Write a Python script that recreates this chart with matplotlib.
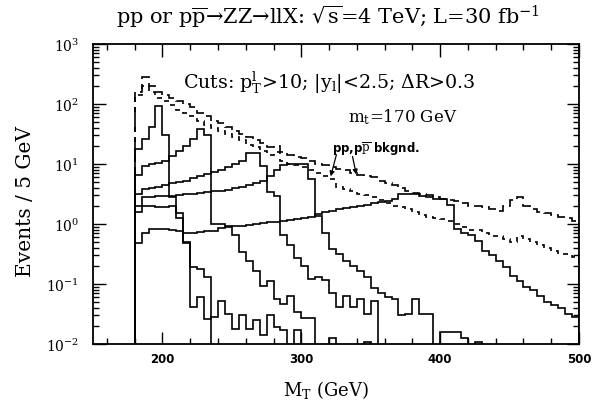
import numpy as np
import matplotlib
matplotlib.use("Agg")
import matplotlib.pyplot as plt
from matplotlib.ticker import FixedLocator, LogLocator, NullFormatter

plt.rcParams['font.family'] = ['DejaVu Serif']
plt.rcParams['mathtext.fontset'] = 'dejavuserif'

# ---- data: events / 5 GeV, bins from 180 to 500 GeV ----
bin_lo = 180
bin_hi = 500
bin_w = 5
Z = 0.001  # empty bin (off scale)

bkg_pp = [158, 282, 200, 158, 141, 126, 112, 100,
          89, 71, 63, 52, 48, 42, 35, 32,
          28, 25, 22, 19, 20, 15.8, 14, 13.2,
          12.6, 11.2, 10, 9.5, 8.9, 8.3, 7.9, 7.1,
          6.6, 6.3, 6.0, 5.2, 4.8, 4.5, 4.0, 3.5,
          3.3, 3.2, 3.0, 2.8, 2.6, 2.5, 2.4, 2.2,
          2.0, 2.0, 1.9, 1.8, 1.66, 2.0, 2.5, 2.8,
          2.0, 1.8, 1.58, 1.5, 1.41, 1.32, 1.26, 1.12]

bkg_ppbar = [141, 200, 158, 126, 112, 95, 79, 71,
             63, 52, 45, 40, 35, 32, 28, 25,
             21, 19, 16.6, 14, 15.8, 11.2, 10, 9.5,
             8.9, 7.9, 7.1, 6.3, 5.6, 4.2, 3.8, 3.5,
             3.2, 3.0, 2.8, 2.5, 2.2, 2.0, 1.9, 1.8,
             1.58, 1.41, 1.32, 1.26, 1.2, 1.12, 1.0, 0.89,
             0.79, 0.79, 0.71, 0.63, 0.63, 0.56, 0.5, 0.63,
             0.56, 0.5, 0.45, 0.4, 0.35, 0.32, 0.32, 0.28]

sig_a = [0.49, 0.72, 0.81, 0.83, 0.83, 0.79, 0.76, 0.49,
         0.19, 0.18, 0.13, Z, Z, Z, Z, Z,
         Z, Z, Z, Z, Z, Z, Z, Z,
         Z, Z, Z, Z, Z, Z, Z, Z,
         Z, Z, Z, Z, Z, Z, Z, Z,
         Z, Z, Z, Z, Z, Z, Z, Z,
         Z, Z, Z, Z, Z, Z, Z, Z,
         Z, Z, Z, Z, Z, Z, Z, Z]

sig_200 = [18, 26, 42, 93, 30, 2.8, 1.26, 0.5,
           0.041, 0.06, 0.026, 0.028, 0.052, 0.032, 0.018, 0.03,
           0.018, 0.025, 0.014, 0.03, 0.019, 0.017, Z, 0.017,
           Z, Z, Z, Z, Z, Z, Z, Z,
           Z, 0.011, Z, Z, Z, Z, Z, Z,
           Z, Z, Z, Z, Z, Z, Z, Z,
           Z, Z, Z, Z, Z, Z, Z, Z,
           Z, Z, Z, Z, Z, Z, Z, Z]

sig_240 = [6.6, 9.3, 10, 10.5, 11.2, 13.8, 16.6, 20,
           26, 38, 30, 1.0, 1.0, 0.93, 0.65, 0.34,
           0.245, 0.166, 0.093, 0.112, 0.056, 0.047, 0.063, 0.034,
           0.0275, 0.0275, Z, Z, 0.0126, Z, Z, Z,
           Z, Z, Z, Z, Z, Z, Z, Z,
           Z, Z, Z, Z, Z, Z, Z, Z,
           Z, Z, Z, Z, Z, Z, Z, Z,
           Z, Z, Z, Z, Z, Z, Z, Z]

sig_270 = [3.2, 3.8, 4.0, 4.2, 4.4, 4.8, 5.0, 5.2,
           5.8, 6.3, 6.9, 7.4, 7.9, 8.9, 10, 11.2,
           15.5, 15.5, 9.3, 3.4, 2.95, 0.65, 0.44, 0.275,
           0.2, 0.12, 0.13, 0.115, 0.072, 0.041, 0.063, 0.041,
           0.056, 0.032, 0.052, Z, Z, Z, Z, Z,
           Z, Z, Z, Z, Z, Z, Z, Z,
           Z, Z, Z, Z, Z, Z, Z, Z,
           Z, Z, Z, Z, Z, Z, Z, Z]

sig_300 = [2.0, 2.8, 2.8, 2.9, 2.95, 2.95, 3.0, 3.2,
           3.2, 3.3, 3.4, 3.5, 3.5, 3.7, 4.0, 4.2,
           4.5, 4.8, 5.2, 6.3, 7.9, 9.5, 10, 10,
           10, 5.6, 1.38, 0.72, 0.38, 0.32, 0.245, 0.2,
           0.166, 0.13, 0.087, 0.072, 0.06, 0.056, 0.03, 0.032,
           0.056, 0.032, 0.032, Z, 0.016, 0.016, 0.016, 0.0126,
           Z, 0.011, Z, Z, Z, Z, Z, Z,
           Z, Z, Z, Z, Z, Z, Z, Z]

sig_400 = [1.58, 2.0, 2.0, 1.9, 1.9, 2.0, 1.55, 0.72,
           0.72, 0.74, 0.76, 0.76, 0.87, 0.89, 0.91, 0.93,
           0.95, 1.0, 1.05, 1.07, 1.1, 1.12, 1.15, 1.2,
           1.26, 1.32, 1.48, 1.58, 1.66, 1.8, 1.86, 1.9,
           2.0, 2.1, 2.2, 2.35, 2.45, 2.6, 3.2, 3.2,
           3.2, 2.95, 2.8, 2.6, 2.6, 2.1, 0.83, 0.72,
           0.65, 0.52, 0.36, 0.3, 0.245, 0.19, 0.138, 0.112,
           0.089, 0.08, 0.063, 0.05, 0.045, 0.04, 0.032, 0.028]

solid_series = [sig_a, sig_200, sig_240, sig_270, sig_300, sig_400]

x_ticks = [200, 300, 400, 500]
x_tick_labels = ['200', '300', '400', '500']

# ---- figure ----
fig = plt.figure(figsize=(5.95, 4.02), dpi=100)
ax = fig.add_axes([93/595, 1-345/402, (579-93)/595, (345-45)/402])

edges = np.arange(bin_lo, bin_hi + bin_w, bin_w)
lw = 1.2
ax.stairs(bkg_pp, edges, baseline=Z, color='black', lw=lw,
          linestyle=(0, (6, 3)))
ax.stairs(bkg_ppbar, edges, baseline=Z, color='black', lw=lw,
          linestyle=(0, (3, 3)))
for s in solid_series:
    ax.stairs(s, edges, baseline=Z, color='black', lw=lw)

ax.set_yscale('log')
ax.set_xlim(150, 500)
ax.set_ylim(1e-2, 1e3)

ax.xaxis.set_major_locator(FixedLocator(x_ticks))
ax.set_xticklabels(x_tick_labels, fontfamily='DejaVu Sans',
                   fontweight='bold', fontsize=8.5)
ax.xaxis.set_minor_locator(FixedLocator(np.arange(160, 500, 20)))
ax.yaxis.set_major_locator(LogLocator(base=10, numticks=10))
ax.yaxis.set_minor_locator(LogLocator(base=10, subs=np.arange(2, 10), numticks=20))
ax.yaxis.set_minor_formatter(NullFormatter())
ax.tick_params(which='both', direction='in', top=True, right=True, width=1.0)
ax.tick_params(which='major', length=9)
ax.tick_params(which='minor', length=4)
ax.tick_params(axis='y', labelsize=10, pad=10)
ax.tick_params(axis='x', pad=6)
for sp in ax.spines.values():
    sp.set_linewidth(1.3)

ax.set_xlabel(r'M$_{\rm T}$ (GeV)', fontsize=13)
ax.xaxis.set_label_coords(0.48, -0.112)
ax.set_ylabel('Events / 5 GeV', fontsize=14.5)
ax.yaxis.set_label_coords(-0.12, 0.477)

fig.text(0.551, 0.958,
         'pp or p$\\overline{\\rm p}$\u2192ZZ\u2192llX: $\\sqrt{\\rm s}$=4 TeV; L=30 fb$^{-1}$',
         ha='center', va='center', fontsize=15)

ax.text(215, 10**2.37, r'Cuts: p$_{\rm T}^{\rm l}$>10; |y$_{\rm l}$|<2.5; $\Delta$R>0.3',
        ha='left', va='center', fontsize=13.7)
ax.text(373, 10**1.8, r'm$_{\rm t}$=170 GeV', ha='center', va='center', fontsize=12)
ax.text(322, 10**1.28, r'pp,p$\overline{\rm p}$ bkgnd.', ha='left', va='center',
        fontsize=8.5, fontfamily='DejaVu Sans', fontweight='bold')
ax.annotate('', xy=(320.7, 10**0.75), xytext=(325.8, 10**1.2),
            arrowprops=dict(arrowstyle='-|>', color='black', lw=0.9, mutation_scale=7))
ax.annotate('', xy=(340, 10**0.78), xytext=(336.5, 10**1.17),
            arrowprops=dict(arrowstyle='-|>', color='black', lw=0.9, mutation_scale=7))

fig.savefig('out.png', dpi=100)
